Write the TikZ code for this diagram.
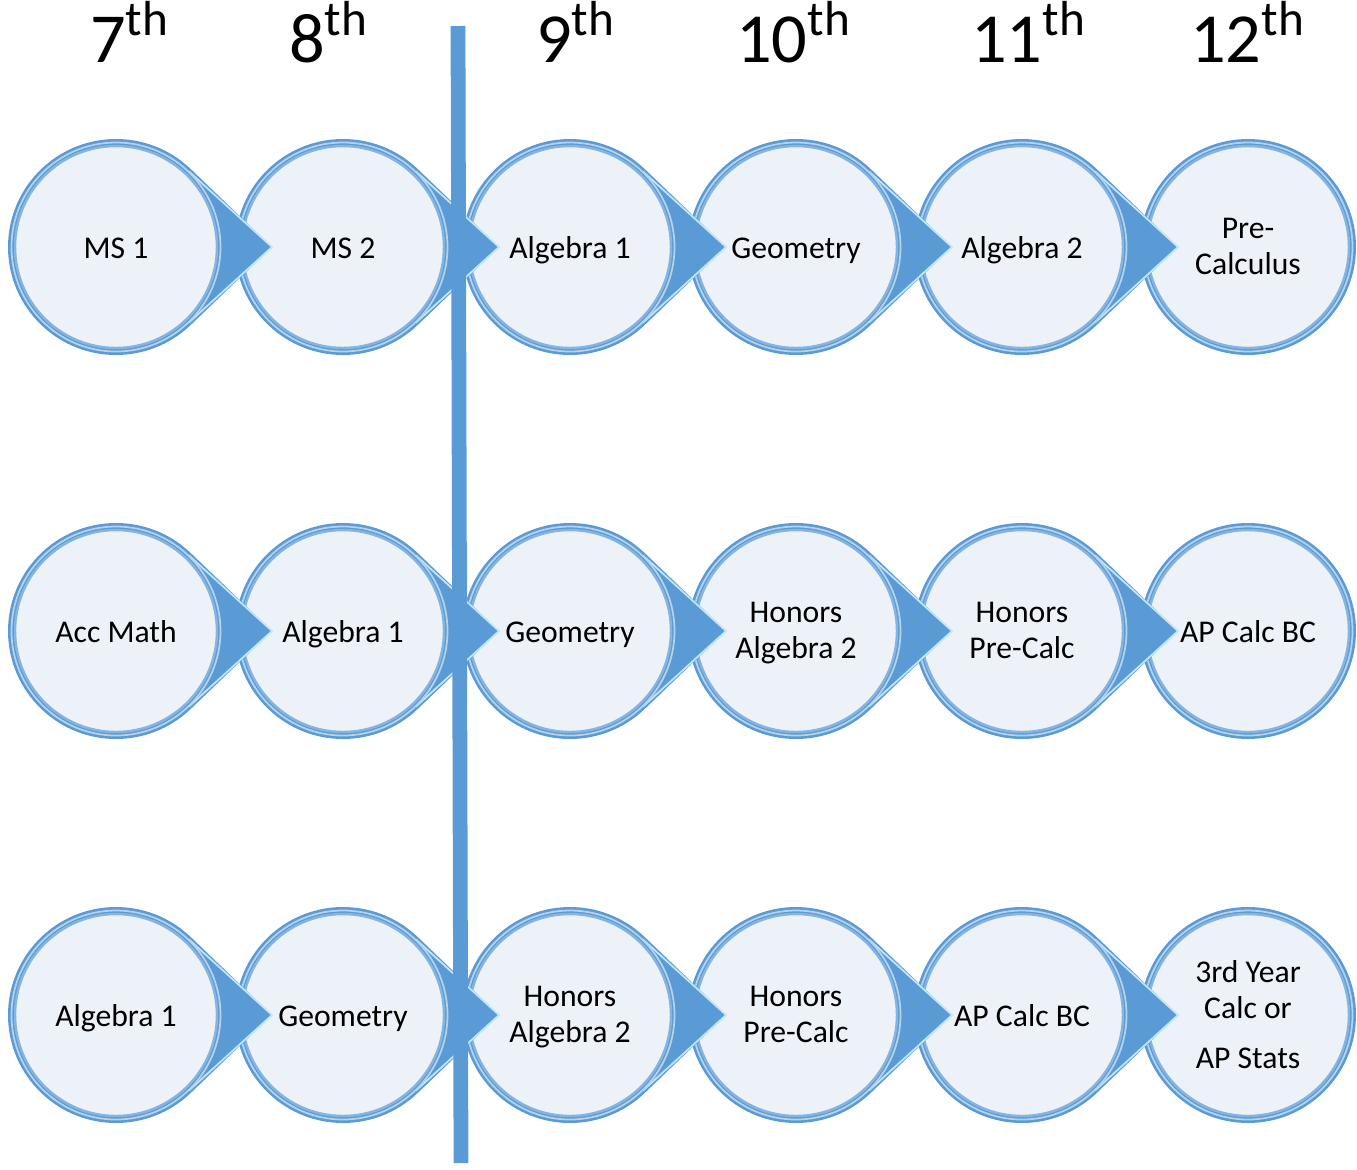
\documentclass[tikz,border=0pt]{standalone}
\usepackage{fontspec}
\setmainfont{Carlito}
\usetikzlibrary{positioning,calc}
\definecolor{ringblue}{HTML}{5B9BD5}
\definecolor{tipedge}{HTML}{BFE6FA}
\definecolor{bubblefill}{HTML}{EDF2F9}
\tikzset{
  course/.style={align=center,font=\fontsize{9}{10.2}\selectfont,yshift=-0.045cm,
    execute at begin node=\strut,execute at end node=\strut},
  grade/.style={anchor=base,font=\fontsize{20}{24}\selectfont},
  divider/.style={ringblue,line width=4.2pt},
  ring/.pic={
    \fill[ringblue] (0,0) circle[radius=108];
    \draw[white!55!ringblue,line width=0.5pt] (0,0) circle[radius=104.5];
    \draw[ringblue!75,line width=0.7pt,fill=bubblefill] (0,0) circle[radius=101];
  },
  bubble/.pic={
    \fill[ringblue] (156,0) -- (46.2:108) arc[start angle=46.2,end angle=313.8,radius=108] -- cycle;
    \draw[tipedge,line width=0.5pt] (46.2:105) -- (156,0) -- (-46.2:105);
    \draw[white!55!ringblue,line width=0.5pt] (0,0) circle[radius=104.5];
    \draw[ringblue!75,line width=0.7pt,fill=bubblefill] (0,0) circle[radius=101];
  }
}
\begin{document}
\begin{tikzpicture}[x=0.01cm,y=0.01cm]
        \useasboundingbox (0,0) rectangle (1357,-1169);
        \foreach \y in {247,631,1015}
        \pic at (1248,-\y) {ring};
        \foreach \x in {1022,796,570,343,116}
        \foreach \y in {247,631,1015}
        \pic at (\x,-\y) {bubble};
        % grades
        \node[grade] (g7) at (130,-62) {7\textsuperscript{th}};
        \node[grade] (g8) at (329,-62) {8\textsuperscript{th}};
        \node[grade] (g9) at (576,-62) {9\textsuperscript{th}};
        \node[grade] (g10) at (794,-62) {10\textsuperscript{th}};
        \node[grade] (g11) at (1029,-62) {11\textsuperscript{th}};
        \node[grade] (g12) at (1248,-62) {12\textsuperscript{th}};
        % first row
        \node[course] (a7) at (116,-247) {MS 1};
        \node[course] (a8) at (343,-247) {MS 2};
        \node[course] (a9) at (570,-247) {Algebra 1};
        \node[course] (a10) at (796,-247) {Geometry};
        \node[course] (a11) at (1022,-247) {Algebra 2};
        \node[course] (a12) at (1248,-247) {Pre-\\Calculus};
        % second row
        \node[course] (b7) at (116,-631) {Acc Math};
        \node[course] (b8) at (343,-631) {Algebra 1};
        \node[course] (b9) at (570,-631) {Geometry};
        \node[course] (b10) at (796,-631) {Honors\\Algebra 2};
        \node[course] (b11) at (1022,-631) {Honors\\Pre-Calc};
        \node[course] (b12) at (1248,-631) {AP Calc BC};
        % third row
        \node[course] (c7) at (116,-1015) {Algebra 1};
        \node[course] (c8) at (343,-1015) {Geometry};
        \node[course] (c9) at (570,-1015) {Honors\\Algebra 2};
        \node[course] (c10) at (796,-1015) {Honors\\Pre-Calc};
        \node[course] (c11) at (1022,-1015) {AP Calc BC};
        \node[course] (c12) at (1248,-1015) {3rd Year\\Calc or\\[4pt]AP Stats};
        % middle school / high school split
        \coordinate (divtop) at (458,-26);
        \coordinate (divbot) at (461,-1163);
        \draw[divider] (divtop) -- (divbot);
    \end{tikzpicture}
\end{document}
